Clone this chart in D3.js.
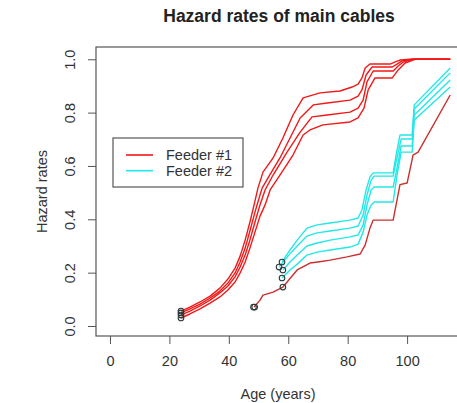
<!DOCTYPE html>
<html>
<head>
<meta charset="utf-8">
<script src="https://cdn.jsdelivr.net/npm/d3@7"></script>
<style>
  body { margin: 0; background: #fff; }
  svg { display: block; font-family: "Liberation Sans", Arial, sans-serif; }
</style>
</head>
<body>
<div id="container"></div>
<script>
/* CONSTANTS AND GLOBALS */
const width = 457,
  height = 403,
  box = { left: 96, right: 460, top: 47, bottom: 336 };

/* DATA: [age, hazard rate] */
// feeder #1, four bands
const feeder1A = [[23.9,0.056],[26.9,0.071],[30.3,0.090],[33.7,0.112],[37.0,0.142],[39.7,0.176],[42.1,0.217],[43.8,0.262],[45.5,0.322],[47.1,0.390],[48.5,0.454],[49.8,0.517],[51.5,0.577],[54.9,0.630],[58.2,0.705],[61.6,0.791],[65.0,0.855],[70.7,0.874],[77.4,0.881],[81.5,0.896],[83.5,0.907],[84.8,0.930],[85.9,0.967],[87.5,0.982],[94.3,0.982],[96.0,0.990],[97.6,0.997],[101.0,1.0],[114.5,1.0]];
const feeder1B = [[23.9,0.049],[26.9,0.064],[30.3,0.082],[33.7,0.105],[37.0,0.131],[39.7,0.161],[42.1,0.199],[43.8,0.240],[45.5,0.292],[47.1,0.356],[48.8,0.427],[49.8,0.465],[51.2,0.517],[53.2,0.555],[57.2,0.630],[60.6,0.705],[64.0,0.780],[68.4,0.829],[73.1,0.836],[80.8,0.847],[83.5,0.862],[84.8,0.885],[86.2,0.941],[88.2,0.971],[95.0,0.971],[96.6,0.982],[98.3,0.994],[101.7,1.0],[114.5,1.0]];
const feeder1C = [[23.9,0.041],[26.9,0.056],[30.3,0.075],[33.7,0.097],[37.0,0.124],[39.7,0.150],[42.1,0.184],[43.8,0.221],[45.5,0.266],[47.1,0.322],[48.8,0.390],[50.5,0.454],[52.2,0.510],[54.9,0.566],[59.6,0.652],[64.0,0.727],[68.0,0.784],[73.1,0.791],[80.8,0.802],[83.5,0.817],[85.2,0.847],[86.5,0.915],[88.6,0.956],[95.3,0.956],[97.0,0.975],[98.7,0.990],[102.0,1.0],[114.5,1.0]];
const feeder1D = [[23.9,0.030],[26.9,0.045],[30.3,0.064],[33.7,0.086],[37.0,0.109],[39.7,0.135],[42.1,0.165],[43.8,0.199],[45.5,0.240],[47.1,0.292],[48.8,0.352],[50.5,0.412],[52.2,0.454],[53.9,0.510],[57.2,0.566],[61.6,0.641],[65.0,0.716],[67.3,0.735],[71.7,0.754],[80.8,0.765],[83.5,0.780],[85.5,0.817],[86.9,0.885],[89.2,0.930],[95.0,0.930],[97.0,0.960],[99.3,0.986],[102.7,1.0],[114.5,1.0]];
// lower red line under the feeder #2 bands
const feeder1Low = [[48.5,0.071],[50.5,0.097],[51.5,0.116],[54.9,0.127],[58.2,0.146],[63.0,0.210],[67.3,0.236],[70.0,0.240],[74.1,0.247],[79.8,0.259],[84.2,0.270],[85.9,0.304],[87.5,0.367],[88.6,0.397],[95.3,0.397],[96.6,0.472],[97.6,0.530],[100.0,0.536],[102.0,0.641],[103.7,0.652],[114.5,0.866]];
// feeder #2, four bands
const feeder2A = [[57.9,0.240],[60.6,0.285],[63.0,0.322],[66.3,0.367],[69.7,0.379],[74.1,0.386],[80.8,0.397],[83.5,0.405],[84.8,0.435],[86.2,0.510],[87.5,0.559],[88.6,0.574],[95.3,0.574],[96.3,0.641],[97.6,0.716],[101.7,0.716],[102.4,0.829],[114.5,0.967]];
const feeder2B = [[56.9,0.221],[59.9,0.262],[63.0,0.300],[66.3,0.337],[69.7,0.349],[74.1,0.356],[80.8,0.367],[83.5,0.375],[85.2,0.416],[86.5,0.491],[87.9,0.547],[88.9,0.562],[95.3,0.562],[96.6,0.630],[98.0,0.701],[101.7,0.701],[102.4,0.814],[114.5,0.949]];
const feeder2C = [[58.2,0.210],[60.6,0.240],[63.0,0.266],[66.3,0.300],[69.7,0.311],[74.1,0.322],[80.8,0.334],[83.5,0.341],[85.2,0.379],[86.5,0.454],[87.9,0.510],[88.9,0.521],[95.3,0.521],[96.6,0.592],[98.0,0.675],[101.7,0.675],[102.4,0.791],[114.5,0.922]];
const feeder2D = [[57.9,0.180],[60.6,0.210],[63.0,0.232],[66.3,0.266],[69.7,0.277],[74.1,0.285],[80.8,0.296],[83.5,0.307],[85.2,0.352],[86.5,0.416],[87.9,0.454],[88.9,0.465],[95.3,0.465],[96.6,0.566],[98.0,0.652],[101.7,0.652],[102.4,0.772],[114.5,0.896]];
// open circle markers
const markers = [[23.9,0.056],[23.9,0.049],[23.9,0.041],[23.9,0.030],[48.3,0.071],[48.7,0.071],[58.2,0.146],[57.9,0.240],[56.9,0.221],[58.2,0.210],[57.9,0.180]];

const xTicks = [0, 20, 40, 60, 80, 100];
const yTicks = [0, 0.2, 0.4, 0.6, 0.8, 1.0];
const legendLabels = ["Feeder #1", "Feeder #2"];

const red = "#f21818", darkRed = "#c9302c", cyan = "#22e8e8";

/* SCALES */
const xScale = d3.scaleLinear()
  .domain([-4.7, 117.8])
  .range([box.left, box.right]);

const yScale = d3.scaleLinear()
  .domain([-0.0375, 1.046])
  .range([box.bottom, box.top]);

/* SVG */
const svg = d3.select("#container")
  .append("svg")
  .attr("width", width)
  .attr("height", height);

// title
svg.append("text")
  .attr("x", 279)
  .attr("y", 22)
  .attr("text-anchor", "middle")
  .attr("font-size", 17.5)
  .attr("font-weight", "bold")
  .attr("fill", "#222")
  .text("Hazard rates of main cables");

// axes
const xAxis = svg.append("g")
  .attr("transform", `translate(0, ${box.bottom})`)
  .call(d3.axisBottom(xScale).tickValues(xTicks).tickSize(8).tickPadding(12).tickFormat(d3.format("d")));

const yAxis = svg.append("g")
  .attr("transform", `translate(${box.left}, 0)`)
  .call(d3.axisLeft(yScale).tickValues(yTicks).tickSize(8).tickFormat(d3.format(".1f")));

[xAxis, yAxis].forEach(g => {
  g.select(".domain").remove();
  g.selectAll(".tick line").attr("stroke", "#555");
  g.selectAll(".tick text")
    .attr("font-size", 14.5)
    .attr("fill", "#333")
    .attr("font-family", "Liberation Sans, Arial, sans-serif");
});

yAxis.selectAll(".tick text")
  .attr("x", null)
  .attr("dy", null)
  .attr("text-anchor", "middle")
  .attr("transform", "translate(-21, 0) rotate(-90)");

// axis titles
svg.append("text")
  .attr("x", 278)
  .attr("y", 399)
  .attr("text-anchor", "middle")
  .attr("font-size", 14.5)
  .attr("fill", "#333")
  .text("Age (years)");

svg.append("text")
  .attr("transform", `translate(47, ${(box.top + box.bottom) / 2}) rotate(-90)`)
  .attr("text-anchor", "middle")
  .attr("font-size", 14.5)
  .attr("fill", "#333")
  .text("Hazard rates");

// plot box
svg.append("rect")
  .attr("x", box.left)
  .attr("y", box.top)
  .attr("width", box.right - box.left)
  .attr("height", box.bottom - box.top)
  .attr("fill", "none")
  .attr("stroke", "#555")
  .attr("stroke-width", 1.2);

/* DRAW LINES */
const line = d3.line()
  .x(d => xScale(d[0]))
  .y(d => yScale(d[1]));

const series = [
  { data: feeder1A, color: red },
  { data: feeder1B, color: red },
  { data: feeder1C, color: red },
  { data: feeder1D, color: red },
  { data: feeder2A, color: cyan },
  { data: feeder2B, color: cyan },
  { data: feeder2C, color: cyan },
  { data: feeder2D, color: cyan },
  { data: feeder1Low, color: darkRed }
];

svg.selectAll(".series")
  .data(series)
  .join("path")
  .attr("class", "series")
  .attr("d", d => line(d.data))
  .attr("fill", "none")
  .attr("stroke", d => d.color)
  .attr("stroke-width", 1.4)
  .attr("stroke-linejoin", "round");

svg.selectAll(".marker")
  .data(markers)
  .join("circle")
  .attr("class", "marker")
  .attr("cx", d => xScale(d[0]))
  .attr("cy", d => yScale(d[1]))
  .attr("r", 2.8)
  .attr("fill", "none")
  .attr("stroke", "#2a3a3a")
  .attr("stroke-width", 1.1);

/* LEGEND */
const legend = svg.append("g");

legend.append("rect")
  .attr("x", 113)
  .attr("y", 138)
  .attr("width", 130)
  .attr("height", 49)
  .attr("fill", "#fff")
  .attr("stroke", "#555")
  .attr("stroke-width", 1.2);

const items = legend.selectAll(".item")
  .data(legendLabels)
  .join("g")
  .attr("class", "item")
  .attr("transform", (d, i) => `translate(0, ${155 + i * 15.7})`);

items.append("line")
  .attr("x1", 126)
  .attr("x2", 153)
  .attr("stroke", (d, i) => i === 0 ? red : cyan)
  .attr("stroke-width", 1.6);

items.append("text")
  .attr("x", 166)
  .attr("y", 5)
  .attr("font-size", 14.5)
  .attr("fill", "#333")
  .text(d => d);
</script>
</body>
</html>
